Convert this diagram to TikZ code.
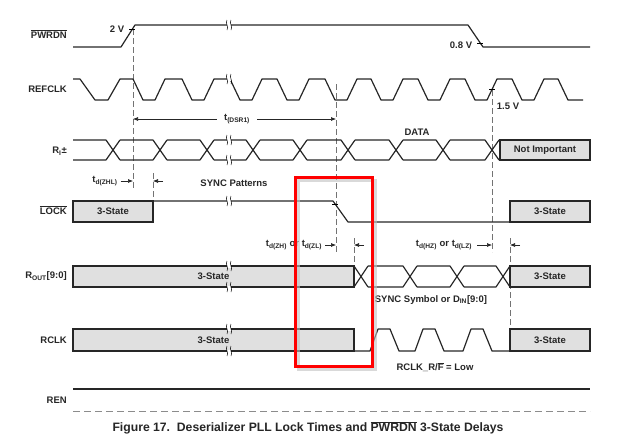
\documentclass[tikz,border=0pt]{standalone}
\usepackage{fontspec}
\setmainfont{Liberation Sans}
\usepackage{tikz}
\usetikzlibrary{positioning, arrows.meta, calc}

\begin{document}
\begin{tikzpicture}[x=1pt,y=-1pt,
  font=\fontsize{9.5}{11}\bfseries\selectfont,
  wave/.style={line width=1.2pt,black!85,line join=round},
  hiz/.style={draw=black!85,line width=1.2pt,fill=black!12,inner sep=0pt,outer sep=0pt,text=black!85},
  guide/.style={black!55,line width=0.6pt,dash pattern=on 6pt off 3pt},
  dim/.style={-{Latex[length=5pt,width=4pt]},line width=0.6pt,black!85},
  lbl/.style={anchor=east,text=black!85,inner sep=0pt},
  txt/.style={text=black!85,inner sep=1pt}]
\useasboundingbox (0,0) rectangle (640,440);

% signal names
\node[lbl] (pwrdn) at (67,34) {$\overline{\mbox{PWRDN}}$};
\node[lbl] (refclk) at (67,89) {REFCLK};
\node[lbl] (ri) at (67,151) {R\textsubscript{I}±};
\node[lbl] (lock) at (67,210) {$\overline{\mbox{LOCK}}$};
\node[lbl] (rout) at (67,276) {R\textsubscript{OUT}[9:0]};
\node[lbl] (rclk) at (67,340) {RCLK};
\node[lbl] (ren) at (67,400) {REN};

% guide lines
\coordinate (g1a) at (133,29);  \coordinate (g1b) at (133,190);
\coordinate (g2a) at (153,173); \coordinate (g2b) at (153,201);
\coordinate (g3a) at (336,84);  \coordinate (g3b) at (336,252);
\coordinate (g4a) at (354,238); \coordinate (g4b) at (354,266);
\coordinate (g5a) at (492,90);  \coordinate (g5b) at (492,252);
\coordinate (g6a) at (510,238); \coordinate (g6b) at (510,329);
\foreach \g in {g1,g2,g3,g4,g5,g6}{\draw[guide] (\g a) -- (\g b);}

% PWRDN
\draw[wave] (73,47) -- (121,47) -- (135,25) -- (468,25) -- (483,47) -- (590,47);
\node[txt] (v2) at (117,29) {2 V};
\node[txt] (v08) at (461,45) {0.8 V};

% REFCLK
\draw[wave] (73,79) -- (80,79) -- (95,100) -- (108,100) -- (120,79)
  foreach \f in {133,182,230,277,325,371,418,465,512} { -- (\f,79) -- (\f+10,100) -- (\f+22,100) -- (\f+32,79)}
  -- (558,79) -- (568,100) -- (583,100);
\node[txt] (v15) at (508,106) {1.5 V};

% Ri
\foreach \c [remember=\c as \p (initially 66)] in {113,160,207,253,300,348,396,443,492}{
  \draw[wave] (\p+7,140) -- (\c-7,140) -- (\c+7,160);
  \draw[wave] (\p+7,160) -- (\c-7,160) -- (\c+7,140);
}
\node[hiz,minimum width=90pt,minimum height=20pt] (rinot) at (545,150) {Not Important};
\node[txt] (data) at (417,132) {DATA};

% LOCK
\node[hiz,minimum width=80pt,minimum height=21pt] (lockz) at (113,211.5) {3-State};
\node[hiz,minimum width=80pt,minimum height=21pt] (lockr) at (550,211.5) {3-State};
\draw[wave] (lockz.north east) -- (333,201) -- (348,222) -- (lockr.south west);
\node[txt] (sync) at (234,183) {SYNC Patterns};

% ROUT
\node[hiz,minimum width=281pt,minimum height=21pt] (routz) at (213.5,276.5) {3-State};
\node[hiz,minimum width=80pt,minimum height=21pt] (routr) at (550,276.5) {3-State};
\foreach \c [remember=\c as \p (initially 347)] in {361,410,457,503}{
  \draw[wave] (\p+7,266) -- (\c-7,266) -- (\c+7,287);
  \draw[wave] (\p+7,287) -- (\c-7,287) -- (\c+7,266);
}
\node[txt] (symb) at (431,300) {SYNC Symbol or D\textsubscript{IN}[9:0]};

% RCLK
\node[hiz,minimum width=281pt,minimum height=22pt] (rclkz) at (213.5,340) {3-State};
\node[hiz,minimum width=80pt,minimum height=22pt] (rclkr) at (550,340) {3-State};
\draw[wave] (rclkz.south east) -- (370,351)
  foreach \r in {370,415,463} { -- (\r,351) -- (\r+8,329) -- (\r+20,329) -- (\r+29,351)}
  -- (rclkr.south west);
\node[txt] (rf) at (435,367) {RCLK\_R/$\overline{\mbox{F}}$ = Low};

% REN
\draw[wave] (73,389) -- (590,389);
\draw[black!45,line width=1pt,dash pattern=on 7pt off 4pt] (73,411) -- (590,411);

% breaks
\foreach \x/\y in {229/25,229/79,229/140,229/160,229/201,229/266,229/287,229/329,229/351}{
  \fill[white] (\x-2,\y-1.5) rectangle (\x+2,\y+1.5);
  \draw[line width=0.5pt] (\x-2,\y-5) .. controls (\x-4,\y-1) and (\x,\y+1) .. (\x-2,\y+5);
  \draw[line width=0.5pt] (\x+2,\y-5) .. controls (\x,\y-1) and (\x+4,\y+1) .. (\x+2,\y+5);
}
% threshold ticks
\foreach \x/\y in {132/29,480/43,492/89,335/204}{\draw[line width=0.5pt] (\x-3,\y) -- (\x+3,\y);}

% timings
\node[txt] (tdsr) at (237,119) {t\textsubscript{(DSR1)}};
\draw[dim] ([xshift=-6]tdsr.west) -- (tdsr.west -| g1a);
\draw[dim] ([xshift=6]tdsr.east) -- (tdsr.east -| g3a);
\node[txt] (tzhl) at (105,181) {t\textsubscript{d(ZHL)}};
\draw[dim] ([xshift=2]tzhl.east) -- (tzhl.east -| g1a);
\draw[dim] ($(tzhl.east -| g2a)+(10,0)$) -- (tzhl.east -| g2a);
\node[txt] (tzh) at (294,245) {t\textsubscript{d(ZH)} or t\textsubscript{d(ZL)}};
\draw[dim] ([xshift=2]tzh.east) -- (tzh.east -| g3a);
\draw[dim] ($(tzh.east -| g4a)+(10,0)$) -- (tzh.east -| g4a);
\node[txt] (thz) at (444,245) {t\textsubscript{d(HZ)} or t\textsubscript{d(LZ)}};
\draw[dim] ([xshift=4]thz.east) -- (thz.east -| g5a);
\draw[dim] ($(thz.east -| g6a)+(10,0)$) -- (thz.east -| g6a);

% highlight
\draw[black!25,line width=3pt,opacity=0.6] (298,180) rectangle (375,369);
\draw[red,line width=3pt] (295,177) rectangle (372,366);

\node[txt,font=\fontsize{12.2}{14}\bfseries\selectfont] (cap) at (308,428)
  {Figure 17.\ \ Deserializer PLL Lock Times and $\overline{\mbox{PWRDN}}$ 3-State Delays};
\end{tikzpicture}
\end{document}
